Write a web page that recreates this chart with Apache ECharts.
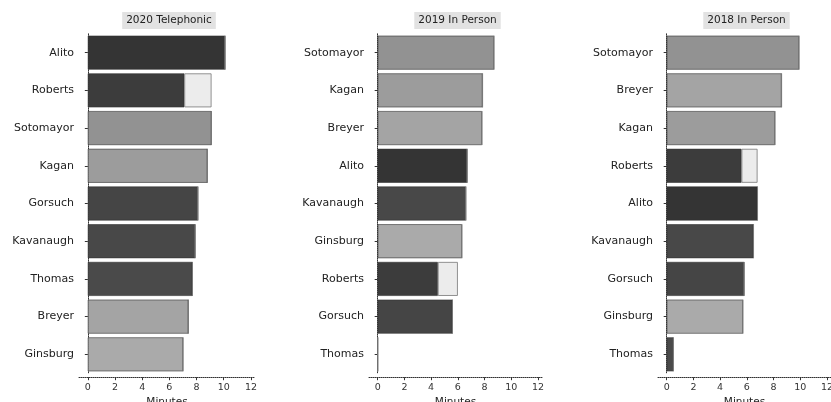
<!DOCTYPE html>
<html><head><meta charset="utf-8">
<script src="https://cdn.jsdelivr.net/npm/echarts@6/dist/echarts.min.js"></script>
<style>html,body{margin:0;padding:0;background:#fff}#c{width:831px;height:402px}</style>
</head><body><div id="c"></div>
<script>
const titles = ['2020 Telephonic', '2019 In Person', '2018 In Person'];
const cats1 = ['Alito','Roberts','Sotomayor','Kagan','Gorsuch','Kavanaugh','Thomas','Breyer','Ginsburg'];
const main1 = [10.1, 7.1, 9.1, 8.8, 8.1, 7.9, 7.7, 7.4, 7.0];
const extra1 = [0, 2.0, 0, 0, 0, 0, 0, 0, 0];
const cats2 = ['Sotomayor','Kagan','Breyer','Alito','Kavanaugh','Ginsburg','Roberts','Gorsuch','Thomas'];
const main2 = [8.7, 7.85, 7.8, 6.7, 6.6, 6.3, 4.5, 5.6, 0];
const extra2 = [0, 0, 0, 0, 0, 0, 1.5, 0, 0];
const cats3 = ['Sotomayor','Breyer','Kagan','Roberts','Alito','Kavanaugh','Gorsuch','Ginsburg','Thomas'];
const main3 = [9.9, 8.6, 8.1, 5.6, 6.8, 6.5, 5.8, 5.7, 0.5];
const extra3 = [0, 0, 0, 1.2, 0, 0, 0, 0, 0];
const xTicks = [0, 2, 4, 6, 8, 10, 12];

const shade = {
  Alito: '#343434', Roberts: '#3c3c3c', Gorsuch: '#454545', Kavanaugh: '#484848', Thomas: '#4a4a4a',
  Sotomayor: '#929292', Kagan: '#9c9c9c', Breyer: '#a4a4a4', Ginsburg: '#aaaaaa'
};
const panels = [
  {cats: cats1, main: main1, extra: extra1, left: 79, width: 176},
  {cats: cats2, main: main2, extra: extra2, left: 369, width: 173},
  {cats: cats3, main: main3, extra: extra3, left: 658, width: 173}
];
const font = 'DejaVu Sans, Verdana, sans-serif';
const option = {animation: false, title: [], grid: [], xAxis: [], yAxis: [], series: []};
panels.forEach((p, i) => {
  option.title.push({
    text: titles[i], left: p.left + p.width / 2 - 2, top: 12, textAlign: 'center',
    backgroundColor: '#e2e2e2', padding: [3, 4],
    textStyle: {fontSize: 10.5, fontWeight: 'normal', color: '#222', fontFamily: font}
  });
  option.grid.push({left: p.left, width: p.width, top: 33.8, bottom: 28.8,
    containLabel: false, outerBoundsMode: 'none'});
  option.xAxis.push({
    type: 'value', gridIndex: i, min: -0.65, max: 12.3, offset: 4,
    name: 'Minutes', nameLocation: 'middle', nameGap: 20,
    nameTextStyle: {fontSize: 10.5, color: '#222', fontFamily: font},
    splitLine: {show: false},
    axisLine: {show: true, lineStyle: {color: '#333', type: 'dotted', width: 1}},
    axisTick: {show: true, length: 3, customValues: xTicks, lineStyle: {color: '#333'}},
    axisLabel: {customValues: xTicks, fontSize: 9.5, color: '#333', margin: 5, fontFamily: font}
  });
  option.yAxis.push({
    type: 'category', gridIndex: i, data: p.cats, inverse: true,
    axisLine: {show: true, lineStyle: {color: '#333', type: 'dotted', width: 1}},
    axisTick: {show: true, length: 3, alignWithLabel: true, lineStyle: {color: '#333'}},
    axisLabel: {fontSize: 11, color: '#222', margin: 5, fontFamily: font}
  });
  option.series.push({
    type: 'bar', xAxisIndex: i, yAxisIndex: i, stack: 's' + i, barWidth: '90%',
    data: p.main.map((v, k) => ({value: v, itemStyle: {color: shade[p.cats[k]]}})),
    itemStyle: {borderColor: '#333', borderWidth: 0.6}
  });
  option.series.push({
    type: 'bar', xAxisIndex: i, yAxisIndex: i, stack: 's' + i, barWidth: '90%',
    data: p.extra,
    itemStyle: {color: '#ececec', borderColor: '#777', borderWidth: 0.8}
  });
});
const chart = echarts.init(document.getElementById('c'));
chart.setOption(option);
</script></body></html>
